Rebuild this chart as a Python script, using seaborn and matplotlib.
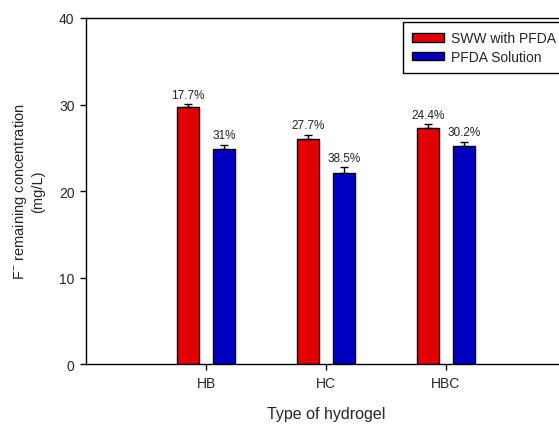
import matplotlib
matplotlib.use("Agg")
import matplotlib.pyplot as plt
import seaborn as sns
import pandas as pd

# Fluoride remaining after treatment with each hydrogel
hydrogels = ["HB", "HC", "HBC"]
series = ["SWW with PFDA", "PFDA Solution"]
sww_conc = [29.7, 26.05, 27.3]
sww_err = [0.35, 0.45, 0.45]
sww_pct = ["17.7%", "27.7%", "24.4%"]
sol_conc = [24.85, 22.15, 25.2]
sol_err = [0.5, 0.6, 0.5]
sol_pct = ["31%", "38.5%", "30.2%"]
colors = ["#e30000", "#0000c0"]
yticks = [0, 10, 20, 30, 40]

sns.set_style("white")
plt.rcParams["font.family"] = ["Liberation Sans", "DejaVu Sans"]
plt.rcParams["mathtext.default"] = "regular"

df = pd.DataFrame({
    "hydrogel": hydrogels * 2,
    "series": [series[0]] * 3 + [series[1]] * 3,
    "conc": sww_conc + sol_conc,
})
errs = {series[0]: sww_err, series[1]: sol_err}
pcts = {series[0]: sww_pct, series[1]: sol_pct}
vals = {series[0]: sww_conc, series[1]: sol_conc}

fig = plt.figure(figsize=(5.59, 4.27), dpi=100)
ax = fig.add_axes([86 / 559, 1 - 365.3 / 427, 480 / 559, 346.3 / 427])

sns.barplot(data=df, x="hydrogel", y="conc", hue="series", order=hydrogels,
            hue_order=series, palette=colors, width=0.6, gap=0.39,
            errorbar=None, edgecolor="black", linewidth=1.0, saturation=1,
            ax=ax)

# Upper error bars and percentage labels, placed on each bar container
for container, name in zip(ax.containers, series):
    xs = [p.get_x() + p.get_width() / 2 for p in container.patches]
    ys = vals[name]
    e = errs[name]
    ax.errorbar(xs, ys, yerr=[[0] * len(e), e], fmt="none", ecolor="black",
                elinewidth=1.0, capsize=2.6, capthick=1.0, zorder=3)
    for x, y, err, txt in zip(xs, ys, e, pcts[name]):
        ax.annotate(txt, (x, y + err), xytext=(0, 2.5), textcoords="offset points",
                    ha="center", va="bottom", fontsize=8.5, color="#222222")

ax.set_xlim(-1, 3)
ax.set_ylim(0, 40)
ax.set_yticks(yticks)
ax.tick_params(axis="both", which="major", direction="out", length=4.3,
               width=1.0, color="black", labelsize=10, pad=4,
               left=True, bottom=True)
for side in ["left", "bottom", "top", "right"]:
    ax.spines[side].set_visible(True)
    ax.spines[side].set_color("black")
    ax.spines[side].set_linewidth(1.0)

ax.set_xlabel("Type of hydrogel", fontsize=11.5, labelpad=12)
ax.set_ylabel("F$^{-}$ remaining concentration\n(mg/L)", fontsize=10.5,
              labelpad=10)

ax.legend(loc="upper left", bbox_to_anchor=(402.7 / 559, 1 - 23 / 427),
          bbox_transform=fig.transFigure, borderaxespad=0, fontsize=10,
          frameon=True, fancybox=False, edgecolor="black", framealpha=1,
          handlelength=2.3, handleheight=0.6, labelspacing=0.35,
          borderpad=0.65, handletextpad=0.5, title=None)
ax.get_legend().get_frame().set_linewidth(1.0)

fig.savefig("out.png", dpi=100)
